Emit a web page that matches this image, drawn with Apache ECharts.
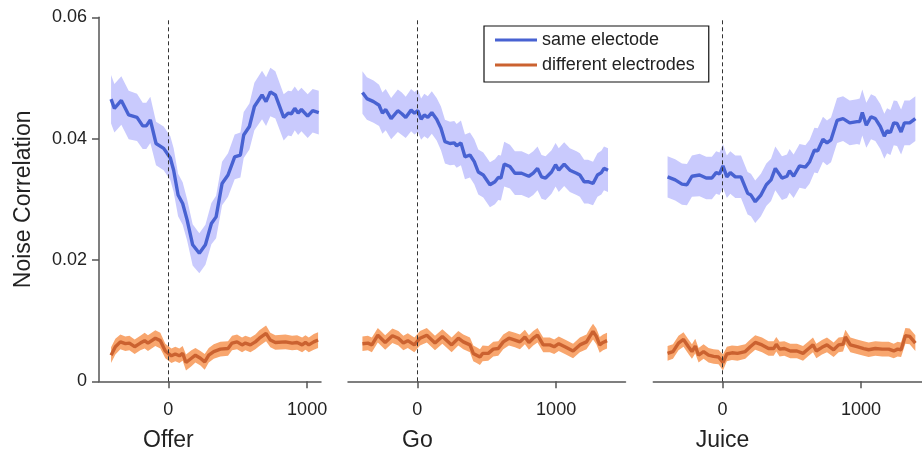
<!DOCTYPE html>
<html>
<head>
<meta charset="utf-8">
<script src="https://cdn.jsdelivr.net/npm/echarts@6/dist/echarts.min.js"></script>
<style>
  html, body { margin: 0; padding: 0; background: #fff; }
  #main { width: 922px; height: 452px; }
</style>
</head>
<body>
<div id="main"></div>
<script>
// 面板 / 坐标刻度
var panelNames = ['Offer', 'Go', 'Juice'];
var xTicks = [0, 1000];
var yTicks = [0, 0.02, 0.04, 0.06];
var xRanges = [[-500, 1100], [-500, 1500], [-500, 1440]];
var seriesNames = ['same electode', 'different electrodes'];

// Offer - same electrode
var offerSameT = [-413, -389, -339, -286, -226, -185, -159, -130, -89, -34, 14, 38, 70, 103, 135, 175, 223, 267, 310, 344,
  387, 430, 478, 519, 543, 584, 620, 675, 704, 735, 771, 831, 863, 887, 911, 935, 959, 1004, 1040, 1084];
var offerSameMean = [0.0465, 0.0450, 0.0463, 0.0439, 0.0435, 0.0421, 0.0421, 0.0431, 0.0392, 0.0384, 0.0368, 0.0348, 0.0307, 0.0293, 0.0266, 0.0225, 0.0211, 0.0225, 0.0260, 0.0271,
  0.0326, 0.0340, 0.0370, 0.0373, 0.0406, 0.0420, 0.0453, 0.0472, 0.0461, 0.0477, 0.0472, 0.0435, 0.0442, 0.0441, 0.0450, 0.0442, 0.0448, 0.0437, 0.0446, 0.0443];
var offerSameSem = [0.0040, 0.0040, 0.0040, 0.0040, 0.0039, 0.0038, 0.0038, 0.0038, 0.0036, 0.0036, 0.0036, 0.0036, 0.0035, 0.0035, 0.0034, 0.0034, 0.0033, 0.0033, 0.0034, 0.0035,
  0.0036, 0.0036, 0.0037, 0.0037, 0.0038, 0.0038, 0.0039, 0.0040, 0.0040, 0.0040, 0.0039, 0.0038, 0.0037, 0.0037, 0.0036, 0.0036, 0.0036, 0.0036, 0.0036, 0.0036];

// Offer - different electrodes
var offerDiffT = [-413, -382, -346, -310, -281, -243, -202, -171, -147, -94, -58, -22, 22, 50, 79, 103, 127, 166, 195, 231, 262, 291,
  327, 375, 430, 459, 495, 531, 555, 591, 627, 656, 704, 735, 771, 844, 892, 928, 964, 988, 1012, 1048, 1079];
var offerDiffMean = [0.0043, 0.0057, 0.0065, 0.0062, 0.0063, 0.0057, 0.0063, 0.0067, 0.0063, 0.0071, 0.0067, 0.0050, 0.0042, 0.0045, 0.0042, 0.0046, 0.0031, 0.0038, 0.0043, 0.0038, 0.0032, 0.0043,
  0.0049, 0.0053, 0.0054, 0.0063, 0.0065, 0.0060, 0.0063, 0.0060, 0.0065, 0.0071, 0.0079, 0.0068, 0.0064, 0.0065, 0.0063, 0.0064, 0.0060, 0.0064, 0.0060, 0.0065, 0.0068];
var offerDiffSem = [0.0013, 0.0013, 0.0012, 0.0012, 0.0012, 0.0012, 0.0012, 0.0013, 0.0013, 0.0013, 0.0013, 0.0012, 0.0012, 0.0012, 0.0012, 0.0012, 0.0013, 0.0013, 0.0012, 0.0012, 0.0013, 0.0012,
  0.0012, 0.0012, 0.0012, 0.0012, 0.0012, 0.0012, 0.0012, 0.0012, 0.0012, 0.0013, 0.0013, 0.0012, 0.0012, 0.0012, 0.0012, 0.0012, 0.0012, 0.0012, 0.0012, 0.0013, 0.0013];

// Go - same electrode
var goSameT = [-396, -364, -316, -276, -252, -228, -189, -141, -112, -84, -45, -21, 3, 27, 50, 75, 104, 139, 170, 199,
  235, 266, 283, 314, 343, 379, 410, 439, 475, 523, 559, 583, 602, 626, 667, 703, 751, 803, 835, 866,
  895, 924, 967, 996, 1019, 1058, 1099, 1147, 1171, 1202, 1230, 1266, 1298, 1326, 1345, 1374];
var goSameMean = [0.0476, 0.0466, 0.0461, 0.0455, 0.0442, 0.0448, 0.0433, 0.0446, 0.0441, 0.0435, 0.0447, 0.0442, 0.0446, 0.0432, 0.0439, 0.0435, 0.0443, 0.0432, 0.0417, 0.0395,
  0.0392, 0.0393, 0.0388, 0.0393, 0.0370, 0.0373, 0.0362, 0.0345, 0.0340, 0.0324, 0.0329, 0.0336, 0.0335, 0.0358, 0.0354, 0.0343, 0.0343, 0.0338, 0.0343, 0.0351,
  0.0337, 0.0335, 0.0345, 0.0357, 0.0348, 0.0358, 0.0348, 0.0343, 0.0340, 0.0329, 0.0329, 0.0326, 0.0340, 0.0344, 0.0351, 0.0348];
var goSameSem = [0.0035, 0.0035, 0.0035, 0.0034, 0.0034, 0.0034, 0.0034, 0.0035, 0.0035, 0.0034, 0.0035, 0.0035, 0.0035, 0.0034, 0.0035, 0.0035, 0.0035, 0.0035, 0.0036, 0.0036,
  0.0036, 0.0036, 0.0036, 0.0037, 0.0037, 0.0037, 0.0037, 0.0037, 0.0037, 0.0037, 0.0037, 0.0037, 0.0037, 0.0037, 0.0036, 0.0036, 0.0036, 0.0036, 0.0036, 0.0036,
  0.0036, 0.0036, 0.0036, 0.0036, 0.0036, 0.0036, 0.0036, 0.0036, 0.0036, 0.0036, 0.0036, 0.0036, 0.0036, 0.0036, 0.0036, 0.0036];

// Go - different electrodes
var goDiffT = [-396, -357, -328, -285, -232, -180, -137, -101, -69, -22, 19, 68, 127, 180, 247, 295, 331, 379, 403, 427, 451, 470, 511, 547,
  583, 619, 660, 703, 739, 775, 804, 835, 866, 907, 955, 986, 1019, 1063, 1122, 1171, 1219, 1243, 1266, 1290, 1314, 1338, 1367];
var goDiffMean = [0.0062, 0.0063, 0.0060, 0.0076, 0.0064, 0.0075, 0.0071, 0.0063, 0.0067, 0.0060, 0.0071, 0.0076, 0.0063, 0.0074, 0.0060, 0.0071, 0.0065, 0.0060, 0.0046, 0.0043, 0.0040, 0.0046, 0.0046, 0.0053,
  0.0054, 0.0065, 0.0071, 0.0068, 0.0065, 0.0073, 0.0064, 0.0071, 0.0076, 0.0060, 0.0060, 0.0057, 0.0062, 0.0057, 0.0050, 0.0060, 0.0065, 0.0074, 0.0082, 0.0074, 0.0060, 0.0064, 0.0067];
var goDiffSem = [0.0012, 0.0012, 0.0012, 0.0012, 0.0012, 0.0012, 0.0012, 0.0012, 0.0012, 0.0012, 0.0012, 0.0012, 0.0012, 0.0012, 0.0012, 0.0012, 0.0012, 0.0012, 0.0013, 0.0013, 0.0013, 0.0013, 0.0012, 0.0012,
  0.0012, 0.0012, 0.0012, 0.0012, 0.0012, 0.0012, 0.0012, 0.0012, 0.0012, 0.0012, 0.0012, 0.0012, 0.0012, 0.0012, 0.0012, 0.0012, 0.0012, 0.0013, 0.0013, 0.0013, 0.0013, 0.0013, 0.0013];

// Juice - same electrode
var juiceSameT = [-397, -342, -293, -257, -221, -166, -118, -77, -46, -22, 3, 31, 56, 92, 133, 181, 205, 236, 277, 316,
  350, 381, 429, 465, 484, 513, 556, 598, 629, 663, 687, 725, 754, 783, 827, 870, 918, 971, 990, 1009,
  1038, 1072, 1103, 1139, 1168, 1188, 1212, 1236, 1260, 1289, 1313, 1351, 1392];
var juiceSameMean = [0.0337, 0.0332, 0.0325, 0.0324, 0.0338, 0.0340, 0.0335, 0.0335, 0.0344, 0.0342, 0.0355, 0.0337, 0.0344, 0.0337, 0.0337, 0.0310, 0.0307, 0.0296, 0.0307, 0.0324,
  0.0332, 0.0351, 0.0335, 0.0338, 0.0347, 0.0338, 0.0355, 0.0353, 0.0362, 0.0381, 0.0380, 0.0399, 0.0393, 0.0398, 0.0430, 0.0433, 0.0426, 0.0428, 0.0428, 0.0443,
  0.0422, 0.0436, 0.0433, 0.0420, 0.0404, 0.0413, 0.0410, 0.0426, 0.0425, 0.0411, 0.0426, 0.0426, 0.0433];
var juiceSameSem = [0.0034, 0.0034, 0.0034, 0.0034, 0.0034, 0.0035, 0.0035, 0.0035, 0.0035, 0.0035, 0.0036, 0.0035, 0.0035, 0.0035, 0.0035, 0.0035, 0.0035, 0.0035, 0.0035, 0.0035,
  0.0035, 0.0036, 0.0036, 0.0036, 0.0036, 0.0036, 0.0036, 0.0036, 0.0036, 0.0037, 0.0037, 0.0037, 0.0037, 0.0037, 0.0037, 0.0037, 0.0037, 0.0037, 0.0038, 0.0038,
  0.0037, 0.0037, 0.0037, 0.0037, 0.0037, 0.0037, 0.0037, 0.0037, 0.0037, 0.0037, 0.0037, 0.0037, 0.0037];

// Juice - different electrodes
var juiceDiffT = [-397, -358, -318, -282, -246, -221, -197, -173, -137, -101, -65, -29, 3, 31, 68, 108, 164, 200, 236, 285, 332, 369, 388, 412, 446,
  489, 537, 581, 622, 653, 677, 718, 754, 802, 838, 870, 887, 923, 971, 1019, 1055, 1103, 1152, 1200, 1236, 1264, 1289, 1320, 1351, 1392];
var juiceDiffMean = [0.0046, 0.0049, 0.0063, 0.0069, 0.0057, 0.0049, 0.0058, 0.0043, 0.0049, 0.0043, 0.0041, 0.0040, 0.0031, 0.0045, 0.0047, 0.0046, 0.0049, 0.0057, 0.0064, 0.0060, 0.0054, 0.0054, 0.0061, 0.0053, 0.0054,
  0.0050, 0.0050, 0.0046, 0.0054, 0.0060, 0.0050, 0.0056, 0.0060, 0.0052, 0.0060, 0.0061, 0.0073, 0.0060, 0.0057, 0.0054, 0.0052, 0.0054, 0.0053, 0.0053, 0.0050, 0.0053, 0.0052, 0.0075, 0.0074, 0.0063];
var juiceDiffSem = [0.0012, 0.0012, 0.0012, 0.0012, 0.0012, 0.0012, 0.0012, 0.0012, 0.0012, 0.0012, 0.0012, 0.0012, 0.0013, 0.0012, 0.0012, 0.0012, 0.0012, 0.0012, 0.0012, 0.0012, 0.0012, 0.0012, 0.0012, 0.0012, 0.0012,
  0.0012, 0.0012, 0.0012, 0.0012, 0.0012, 0.0012, 0.0012, 0.0012, 0.0012, 0.0012, 0.0012, 0.0012, 0.0012, 0.0012, 0.0012, 0.0012, 0.0012, 0.0012, 0.0012, 0.0012, 0.0012, 0.0012, 0.0013, 0.0013, 0.0013];

var panels = [
  { same: [offerSameT, offerSameMean, offerSameSem], diff: [offerDiffT, offerDiffMean, offerDiffSem] },
  { same: [goSameT, goSameMean, goSameSem], diff: [goDiffT, goDiffMean, goDiffSem] },
  { same: [juiceSameT, juiceSameMean, juiceSameSem], diff: [juiceDiffT, juiceDiffMean, juiceDiffSem] }
];

var FONT = '"Liberation Sans", Arial, Helvetica, sans-serif';
var AXIS_COLOR = '#555';
var blueLine = '#4862d2', blueBand = '#c9cafd';
var orangeLine = '#cb6230', orangeBand = '#f8a66e';

var grids = [
  { left: 99, top: 17.3, width: 222, height: 364 },
  { left: 348, top: 17.3, width: 277.5, height: 364 },
  { left: 653.3, top: 17.3, width: 269, height: 364 }
];

var xAxes = [], yAxes = [], series = [];

// 误差带：custom 系列，用坐标轴换算成一个多边形
function bandSeries(i, d, fill) {
  var t = d[0], m = d[1], s = d[2];
  var rows = [];
  for (var k = 0; k < t.length; k++) rows.push([t[k], m[k] - s[k], m[k] + s[k]]);
  return {
    type: 'custom', xAxisIndex: i, yAxisIndex: i, silent: true, z: 1,
    data: rows,
    encode: { x: 0, y: [1, 2] },
    renderItem: function (params, api) {
      if (params.dataIndex !== 0) return null;
      var upper = [], lower = [];
      for (var k = 0; k < rows.length; k++) {
        upper.push(api.coord([rows[k][0], rows[k][2]]));
        lower.push(api.coord([rows[k][0], rows[k][1]]));
      }
      return {
        type: 'polygon',
        shape: { points: upper.concat(lower.reverse()) },
        style: { fill: fill, stroke: null }
      };
    }
  };
}

function meanLine(i, d, name, color, withMark) {
  var t = d[0], m = d[1];
  var pts = [];
  for (var k = 0; k < t.length; k++) pts.push([t[k], m[k]]);
  var s = {
    name: name, type: 'line', xAxisIndex: i, yAxisIndex: i, data: pts,
    showSymbol: false, color: color, lineStyle: { color: color, width: 3.4 }, silent: true, z: 3
  };
  if (withMark) {
    s.markLine = {
      silent: true, symbol: ['none', 'none'], label: { show: false },
      lineStyle: { color: '#333', width: 1, type: [4, 3] },
      data: [{ xAxis: 0 }]
    };
  }
  return s;
}

for (var i = 0; i < 3; i++) {
  xAxes.push({
    type: 'value', gridIndex: i, min: xRanges[i][0], max: xRanges[i][1],
    axisLine: { onZero: false, lineStyle: { color: AXIS_COLOR, width: 1.5 } },
    axisTick: { customValues: xTicks, length: 7, lineStyle: { color: AXIS_COLOR, width: 1.5 } },
    axisLabel: {
      customValues: xTicks, fontSize: 18, color: '#222', fontFamily: FONT, margin: 20,
      formatter: function (v) { return String(v); }
    },
    splitLine: { show: false }
  });
  yAxes.push({
    type: 'value', gridIndex: i, min: yTicks[0], max: yTicks[yTicks.length - 1], interval: 0.02, show: i === 0,
    name: i === 0 ? 'Noise Correlation' : '', nameLocation: 'middle', nameGap: 64,
    nameTextStyle: { fontSize: 23, color: '#222', fontFamily: FONT },
    axisLine: { show: true, onZero: false, lineStyle: { color: AXIS_COLOR, width: 1.5 } },
    axisTick: { show: true, length: 7, lineStyle: { color: AXIS_COLOR, width: 1.5 } },
    axisLabel: {
      fontSize: 18, color: '#222', fontFamily: FONT, margin: 12,
      formatter: function (v) { return v === 0 ? '0' : v.toFixed(2); }
    },
    splitLine: { show: false }
  });
  var p = panels[i];
  series.push(bandSeries(i, p.same, blueBand));
  series.push(bandSeries(i, p.diff, orangeBand));
  series.push(meanLine(i, p.same, seriesNames[0], blueLine, true));
  series.push(meanLine(i, p.diff, seriesNames[1], orangeLine, false));
}

var myChart = echarts.init(document.getElementById('main'), null, { renderer: 'canvas' });
myChart.setOption({
  animation: false,
  backgroundColor: '#fff',
  grid: grids,
  xAxis: xAxes,
  yAxis: yAxes,
  legend: {
    data: seriesNames, orient: 'vertical', left: 484, top: 26,
    icon: 'rect', itemWidth: 42, itemHeight: 3, itemGap: 7,
    padding: [5, 14, 8, 11],
    borderColor: '#111', borderWidth: 1.2, borderRadius: 0,
    textStyle: { fontSize: 18, color: '#222', fontFamily: FONT },
    selectedMode: false
  },
  series: series
});

// 面板标题，居中在 0 时刻
var titles = [];
for (var j = 0; j < 3; j++) {
  var px = myChart.convertToPixel({ xAxisIndex: j }, 0);
  titles.push({
    type: 'text', x: px, y: 441,
    style: { text: panelNames[j], fontSize: 23, fontFamily: FONT, fill: '#222', align: 'center', verticalAlign: 'middle' }
  });
}
myChart.setOption({ graphic: titles });
</script>
</body>
</html>
